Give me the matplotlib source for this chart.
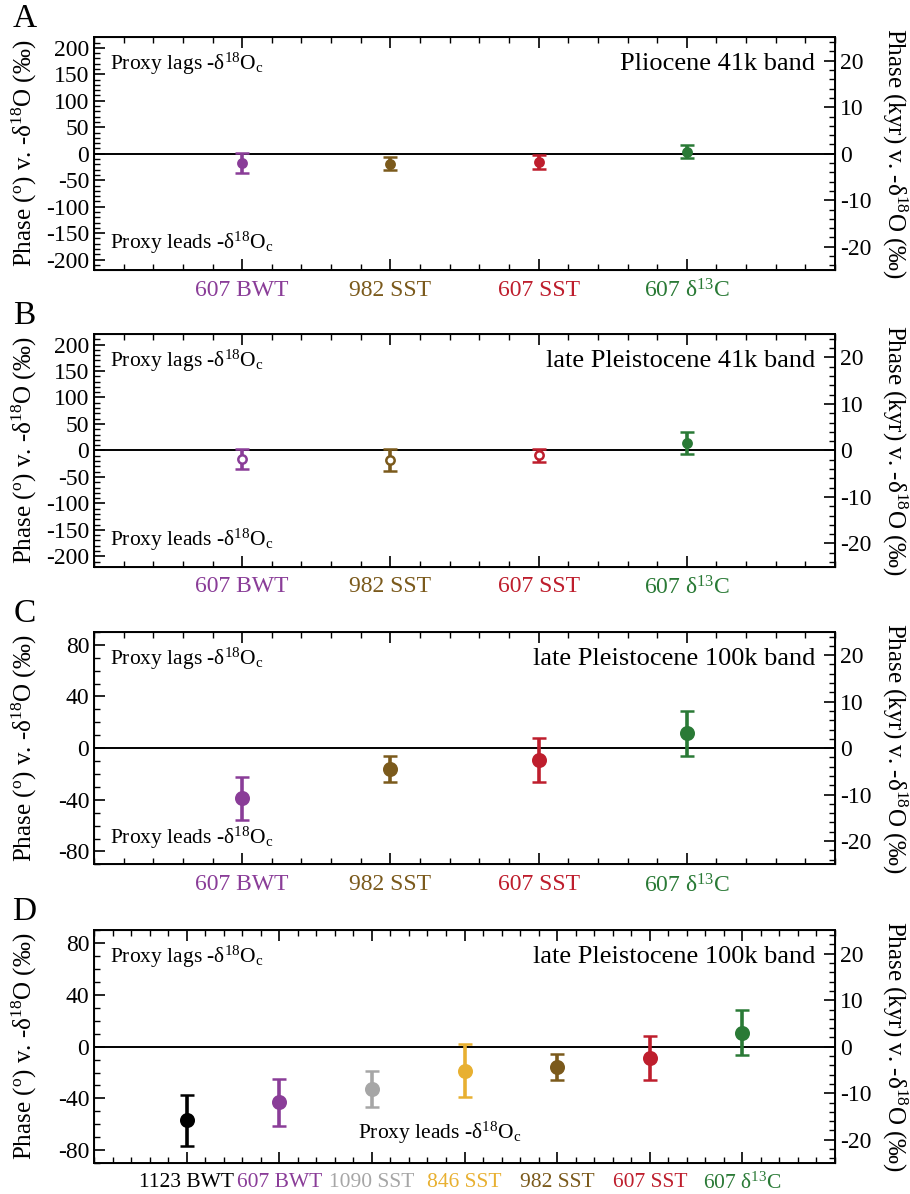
import numpy as np
import matplotlib
matplotlib.use('Agg')
import matplotlib.pyplot as plt
from matplotlib.ticker import MultipleLocator, FixedLocator

plt.rcParams['font.family'] = ['Liberation Serif', 'DejaVu Serif']
plt.rcParams['mathtext.fontset'] = 'custom'
plt.rcParams['mathtext.rm'] = 'Liberation Serif'
plt.rcParams['mathtext.it'] = 'Liberation Serif:italic'
plt.rcParams['axes.unicode_minus'] = False

# proxies, phase (degrees) and 1-sigma error for each band
cats_short = ['607 BWT', '982 SST', '607 SST', '607 δ$^{13}$C']
phase_a = [-17, -19, -16, 4]
err_a = [19, 12, 13, 13]
phase_b = [-16, -18, -9, 14]
err_b = [19, 21, 12, 20]
phase_c = [-39, -16, -9, 11.5]
err_c = [17, 10, 17, 17.5]

cats_long = ['1123 BWT', '607 BWT', '1090 SST', '846 SST', '982 SST', '607 SST', '607 δ$^{13}$C']
phase_d = [-57, -43, -33, -18.5, -16, -9, 11]
err_d = [20, 18, 14, 20.5, 10, 17, 17.5]

col = {'1123 BWT': 'black', '607 BWT': '#8a3d98', '1090 SST': '#a6a6a6',
       '846 SST': '#e8b031', '982 SST': '#7b5a1c', '607 SST': '#be1e2d',
       '607 δ$^{13}$C': '#2a7a36'}

ylab_l = 'Phase ($^\\mathregular{o}$) v. -δ$^{18}$O ($\\it{‰}$)'
ylab_r = 'Phase (kyr) v. -δ$^{18}$O ($\\it{‰}$)'
lags = 'Proxy lags -δ$^{18}$O$_\\mathregular{c}$'
leads = 'Proxy leads -δ$^{18}$O$_\\mathregular{c}$'

fig = plt.figure(figsize=(9.1, 11.94), dpi=100)
W = 0.8143
L = 0.1033
H = 0.1947
bottoms = [0.7739, 0.5254, 0.2761, 0.026]


def panel(ax, cats, vals, errs, period, deg_lim, deg_major, deg_minor, title,
          letter, ms=6, open_marks=0, leads_pos=(0.022, 0.115), xsize=17):
    x = np.arange(1, len(cats) + 1)
    ax.axhline(0, color='black', lw=1.4, zorder=1)
    for i, (c, v, e) in enumerate(zip(cats, vals, errs)):
        fc = 'white' if i < open_marks else col[c]
        ax.errorbar(x[i], v, yerr=e, fmt='o', color=col[c], mfc=fc, mec=col[c],
                    ms=ms, mew=1.8, elinewidth=2.6, capsize=5, capthick=2.6, zorder=3)
    ax.set_xlim(0, len(cats) + 1)
    ax.set_ylim(-deg_lim, deg_lim)
    ax.xaxis.set_major_locator(FixedLocator(x))
    ax.xaxis.set_minor_locator(MultipleLocator(0.2))
    ax.set_xticklabels(cats)
    for lab, c in zip(ax.get_xticklabels(), cats):
        lab.set_color(col[c])
    ax.yaxis.set_major_locator(MultipleLocator(deg_major))
    ax.yaxis.set_minor_locator(MultipleLocator(deg_minor))
    ax.tick_params(which='both', direction='in', top=True, right=False, labelsize=17)
    ax.tick_params(which='major', length=8, width=1.2)
    ax.tick_params(which='minor', length=4, width=1.0)
    ax.tick_params(axis='x', labelsize=xsize, pad=7)
    for s in ax.spines.values():
        s.set_linewidth(1.4)
    ax.set_ylabel(ylab_l, fontsize=18, va='center')
    ax.yaxis.set_label_coords(-0.094, 0.5)

    # right axis in kyr, same scale as degrees for this band
    ax2 = ax.twinx()
    kyr_lim = deg_lim * period / 360.0
    ax2.set_ylim(-kyr_lim, kyr_lim)
    ax2.yaxis.set_major_locator(MultipleLocator(10))
    ax2.yaxis.set_minor_locator(MultipleLocator(2))
    ax2.tick_params(which='both', direction='in', labelsize=17)
    ax2.tick_params(which='major', length=8, width=1.2)
    ax2.tick_params(which='minor', length=4, width=1.0)
    ax2.set_ylabel(ylab_r, fontsize=18, rotation=270, va='center')
    ax2.yaxis.set_label_coords(1.081, 0.5)

    ax.text(0.022, 0.885, lags, transform=ax.transAxes, fontsize=15.5, va='center')
    ax.text(leads_pos[0], leads_pos[1], leads, transform=ax.transAxes, fontsize=15.5, va='center')
    ax.text(0.973, 0.885, title, transform=ax.transAxes, fontsize=19, va='center', ha='right')
    fig.text(0.027, ax.get_position().y1 + 0.0155, letter, fontsize=24, va='center', ha='center')


axA = fig.add_axes([L, bottoms[0], W, H])
panel(axA, cats_short, phase_a, err_a, 41, 219.5, 50, 10, 'Pliocene 41k band', 'A', ms=6)
axB = fig.add_axes([L, bottoms[1], W, H])
panel(axB, cats_short, phase_b, err_b, 41, 219.5, 50, 10, 'late Pleistocene 41k band', 'B',
      ms=6, open_marks=3)
axC = fig.add_axes([L, bottoms[2], W, H])
panel(axC, cats_short, phase_c, err_c, 100, 90, 40, 10, 'late Pleistocene 100k band', 'C', ms=9)
axD = fig.add_axes([L, bottoms[3], W, H])
panel(axD, cats_long, phase_d, err_d, 100, 90, 40, 10, 'late Pleistocene 100k band', 'D', ms=9,
      leads_pos=(0.356, 0.13), xsize=15.5)

fig.savefig('out.png', dpi=100)
